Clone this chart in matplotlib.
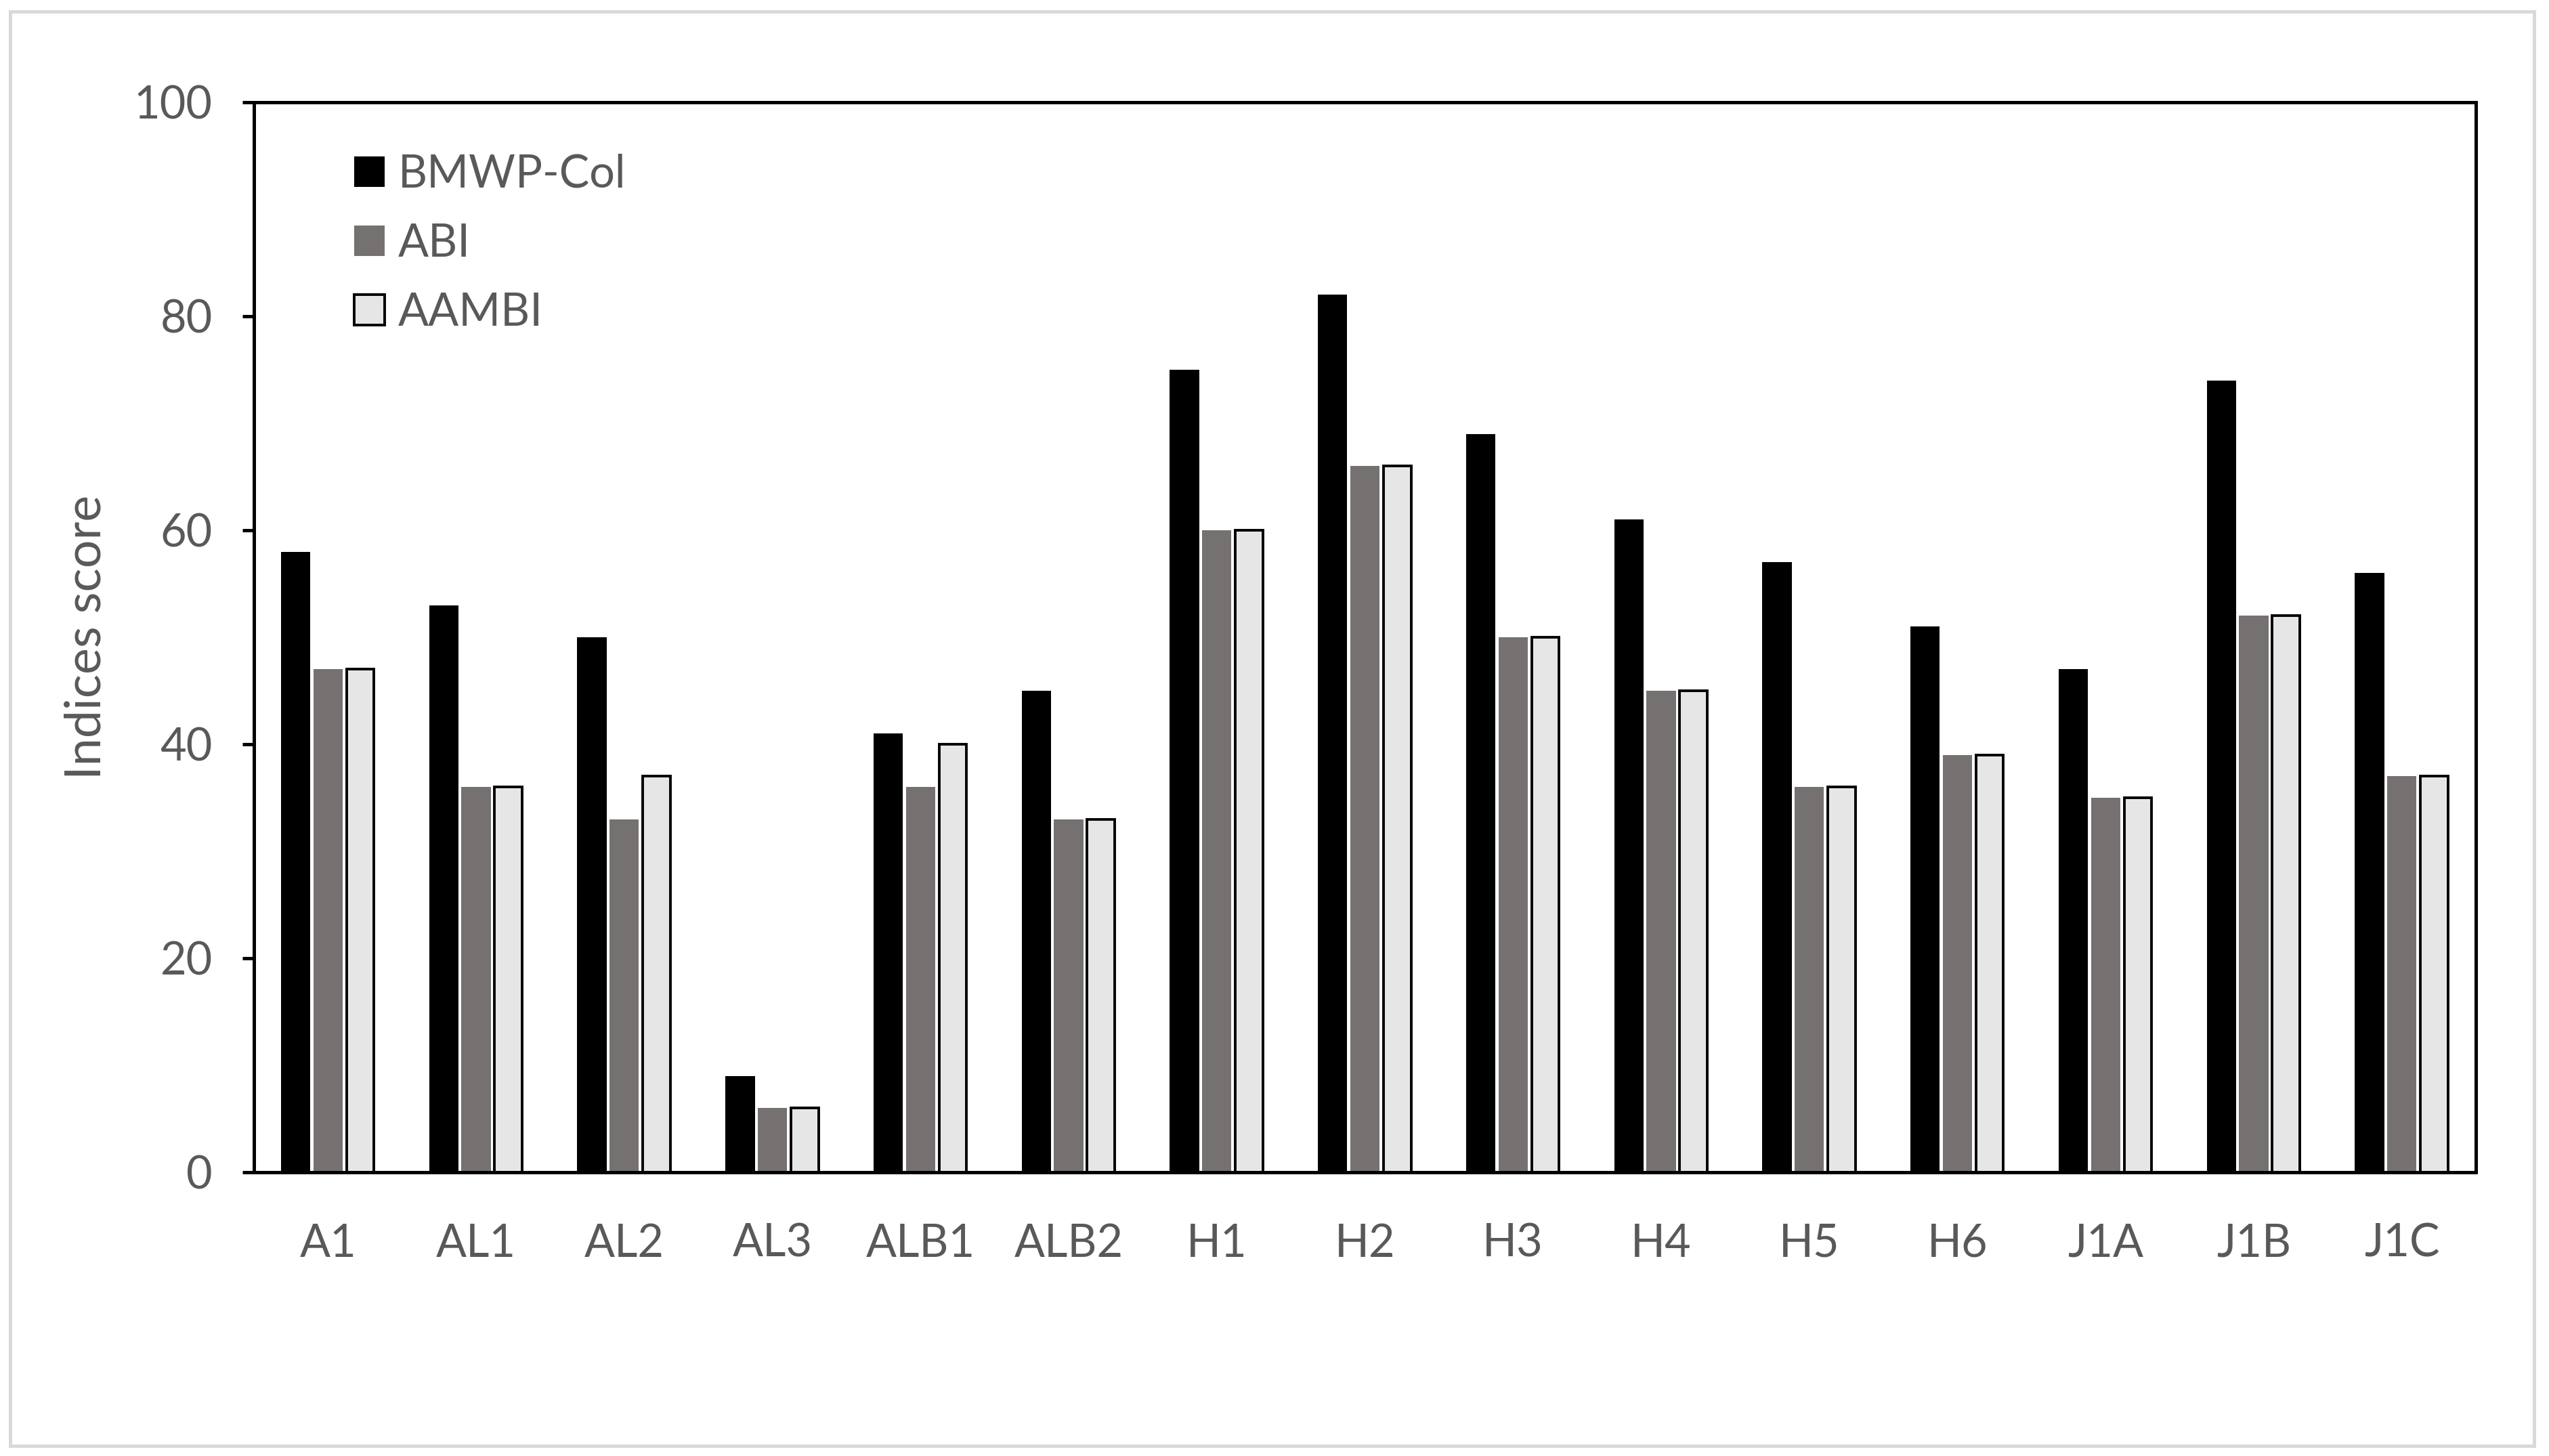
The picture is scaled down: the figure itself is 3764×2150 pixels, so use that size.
import matplotlib
matplotlib.use("Agg")
import matplotlib.pyplot as plt
import numpy as np
from matplotlib.patches import Rectangle

categories = ["A1", "AL1", "AL2", "AL3", "ALB1", "ALB2", "H1", "H2", "H3", "H4",
              "H5", "H6", "J1A", "J1B", "J1C"]
bmwp = [58, 53, 50, 9, 41, 45, 75, 82, 69, 61, 57, 51, 47, 74, 56]
abi = [47, 36, 33, 6, 36, 33, 60, 66, 50, 45, 36, 39, 35, 52, 37]
aambi = [47, 36, 37, 6, 40, 33, 60, 66, 50, 45, 36, 39, 35, 52, 37]
yticks = [0, 20, 40, 60, 80, 100]

plt.rcParams['font.family'] = ['Lato', 'DejaVu Sans']
TXT = '#595959'
DPI = 200
W, H = 3764, 2150
fig = plt.figure(figsize=(W / DPI, H / DPI), dpi=DPI)
fig.patch.set_facecolor('white')

# outer border
fig.add_artist(Rectangle((15 / W, 1 - 2135 / H), (3742 - 15) / W, (2135 - 17) / H,
                         transform=fig.transFigure, fill=False,
                         edgecolor='#D9D9D9', linewidth=1.8))

ax = fig.add_axes([375 / W, 1 - 1731 / H, (3656 - 375) / W, (1731 - 151) / H])

x = np.arange(len(categories))
bw = 0.198
off = 0.218
ax.bar(x - off, bmwp, bw, color='black', edgecolor='none', label='BMWP-Col', zorder=2)
ax.bar(x, abi, bw, color='#767171', edgecolor='none', label='ABI', zorder=2)
ax.bar(x + off, aambi, bw - 0.012, color='#E7E6E6', edgecolor='black', linewidth=1.4,
       label='AAMBI', zorder=2)

ax.set_xlim(-0.5, len(categories) - 0.5)
ax.set_ylim(0, 100)
ax.set_yticks(yticks)
ax.set_xticks(x)
ax.set_xticklabels(categories)

for s in ax.spines.values():
    s.set_linewidth(1.8)
    s.set_color('black')
    s.set_zorder(3)

ax.tick_params(axis='y', direction='out', length=6, width=1.8, color='black',
               labelsize=24, labelcolor=TXT, pad=16)
ax.tick_params(axis='x', length=0, labelsize=24, labelcolor=TXT, pad=27)

ax.set_ylabel('Indices score', fontsize=26.5, color=TXT, labelpad=13)

leg = ax.legend(loc='upper left', bbox_to_anchor=(0.045, 0.952), frameon=False,
                fontsize=24, handlelength=0.68, handleheight=0.68, handletextpad=0.3,
                labelspacing=0.6, borderpad=0, borderaxespad=0)
for t in leg.get_texts():
    t.set_color(TXT)

fig.savefig('out.png', dpi=DPI, facecolor='white')
